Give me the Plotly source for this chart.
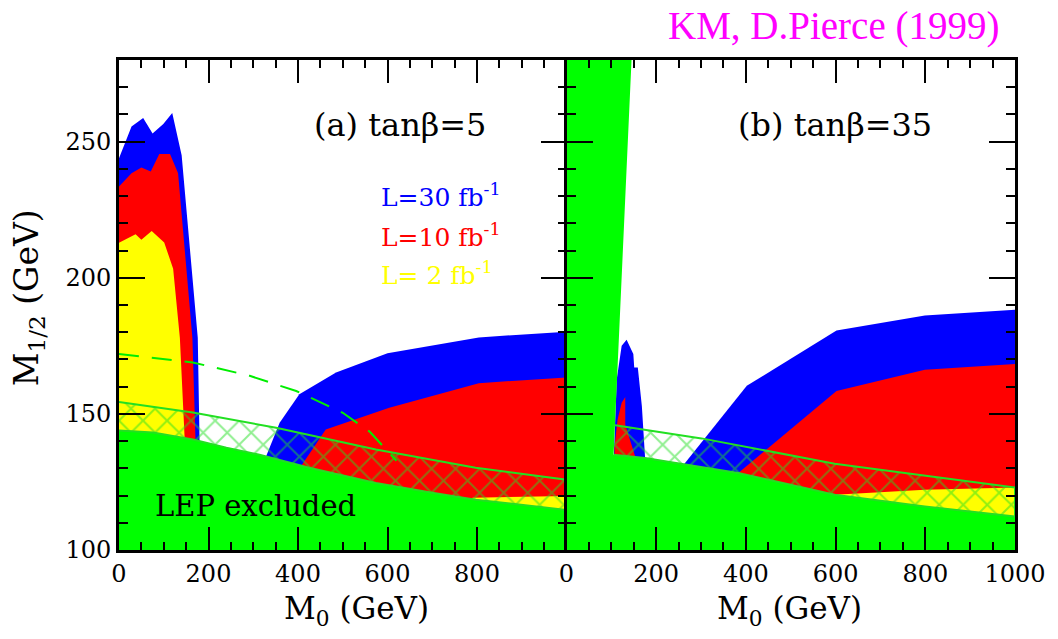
import plotly.graph_objects as go

# ---------------- panel (a): tan(beta) = 5 ----------------
# low-M0 reach contours (M0, M1/2) in GeV
a_low_30_m0 = [0, 28, 54, 75, 99, 119, 140, 176, 180]
a_low_30_m12 = [243.9, 255.6, 258.7, 253.0, 256.5, 260.5, 245.0, 178.0, 140.0]
a_low_10_m0 = [0, 28, 50, 71, 90, 114, 132, 164, 171]
a_low_10_m12 = [233.5, 238.4, 240.5, 239.0, 245.5, 245.5, 238.4, 178.0, 140.0]
a_low_2_m0 = [0, 37, 50, 73, 101, 121, 136, 147]
a_low_2_m12 = [212.9, 216.0, 214.0, 217.2, 213.0, 203.3, 178.0, 140.0]

# high-M0 reach contours
a_high_30_m0 = [318, 359, 403, 485, 600, 804, 1000]
a_high_30_m12 = [130.0, 146.7, 157.2, 165.2, 172.3, 178.1, 180.2]
a_high_10_m0 = [395, 462, 604, 804, 1000]
a_high_10_m12 = [127.9, 144.3, 152.3, 161.3, 163.4]
a_high_2_m0 = [790, 1000]
a_high_2_m12 = [119.2, 119.8]

# LEP excluded boundary and the band above it
a_lep_m0 = [0, 76, 165, 240, 314, 425, 574, 700, 797, 1000]
a_lep_m12 = [143.9, 143.2, 140.6, 137.6, 135.0, 130.2, 124.6, 121.0, 118.5, 114.7]
a_band_m0 = [0, 165, 351, 574, 797, 1000]
a_band_m12 = [154.4, 150.5, 144.9, 136.9, 130.2, 125.8]

# dashed contour
a_dash_m0 = [0, 165, 292, 396, 500, 560, 620]
a_dash_m12 = [172.0, 168.9, 164.0, 158.4, 150.4, 143.5, 132.8]

# ---------------- panel (b): tan(beta) = 35 ----------------
b_spike_30_m0 = [106, 110, 112, 123, 134, 149, 151, 159, 168, 175, 175]
b_spike_30_m12 = [136.0, 155.4, 162.7, 175.0, 177.2, 172.0, 167.0, 167.0, 152.9, 134.4, 130.0]
b_spike_10_m0 = [107, 114, 123, 131, 131, 153, 153]
b_spike_10_m12 = [138.0, 148.0, 154.1, 156.2, 146.0, 134.4, 130.0]

b_high_30_m0 = [250, 402, 602, 799, 1000]
b_high_30_m12 = [129.0, 160.3, 180.6, 186.1, 188.3]
b_high_10_m0 = [375, 602, 799, 1000]
b_high_10_m12 = [127.2, 158.4, 166.2, 168.3]
b_high_2_m0 = [598, 799, 1000]
b_high_2_m12 = [120.3, 122.1, 123.0]

# excluded region: strip at small M0 plus the LEP bound
b_lep_m0 = [0, 145, 105, 175, 383, 598, 799, 1000]
b_lep_m12 = [280.0, 280.0, 135.0, 133.8, 128.3, 120.3, 116.0, 112.3]
b_band_m0 = [105, 301, 598, 1000]
b_band_m12 = [145.9, 141.0, 131.7, 123.0]
b_band_low_m0 = [105, 175, 383, 598, 799, 1000]
b_band_low_m12 = [135.0, 133.8, 128.3, 120.3, 116.0, 112.3]

FLOOR = 100.0
BLUE, RED, YELLOW, GREEN = "#0000ff", "#ff0000", "#ffff00", "#00ff00"
HATCH = "#22e022"
FONT = "DejaVu Serif"


def to_floor(xs, ys):
    """Close a contour down to the bottom of the plot."""
    return list(xs) + [xs[-1], xs[0]], list(ys) + [FLOOR, FLOOR]


def band(xu, yu, xl, yl):
    """Polygon between an upper and a lower curve."""
    return list(xu) + list(xl)[::-1], list(yu) + list(yl)[::-1]


fig = go.Figure()


def area(xs, ys, color, xa, ya):
    fig.add_trace(go.Scatter(x=xs, y=ys, fill="toself", fillcolor=color,
                             mode="lines", line=dict(width=0, color=color),
                             hoverinfo="skip", showlegend=False,
                             xaxis=xa, yaxis=ya))


def hatch(xs, ys, xa, ya):
    fig.add_trace(go.Scatter(x=xs, y=ys, fill="toself",
                             fillcolor="rgba(0,0,0,0)",
                             fillpattern=dict(shape="x", fgcolor=HATCH,
                                              bgcolor="rgba(0,0,0,0)",
                                              size=17, solidity=0.22),
                             mode="lines", line=dict(width=2, color=HATCH),
                             hoverinfo="skip", showlegend=False,
                             xaxis=xa, yaxis=ya))


# panel (a)
for xs, ys, c in [(a_low_30_m0, a_low_30_m12, BLUE),
                  (a_low_10_m0, a_low_10_m12, RED),
                  (a_low_2_m0, a_low_2_m12, YELLOW),
                  (a_high_30_m0, a_high_30_m12, BLUE),
                  (a_high_10_m0, a_high_10_m12, RED),
                  (a_high_2_m0, a_high_2_m12, YELLOW)]:
    area(*to_floor(xs, ys), c, "x", "y")
area(*to_floor(a_lep_m0, a_lep_m12), GREEN, "x", "y")
hatch(*band(a_band_m0, a_band_m12, a_lep_m0, a_lep_m12), "x", "y")
fig.add_trace(go.Scatter(x=a_dash_m0, y=a_dash_m12, mode="lines",
                         line=dict(color="#00ee00", width=2, dash="20px,13px"),
                         hoverinfo="skip", showlegend=False,
                         xaxis="x", yaxis="y"))

# panel (b)
for xs, ys, c in [(b_spike_30_m0, b_spike_30_m12, BLUE),
                  (b_spike_10_m0, b_spike_10_m12, RED),
                  (b_high_30_m0, b_high_30_m12, BLUE),
                  (b_high_10_m0, b_high_10_m12, RED),
                  (b_high_2_m0, b_high_2_m12, YELLOW)]:
    area(*to_floor(xs, ys), c, "x2", "y2")
area(*to_floor(b_lep_m0, b_lep_m12), GREEN, "x2", "y2")
hatch(*band(b_band_m0, b_band_m12, b_band_low_m0, b_band_low_m12), "x2", "y2")

split = 449 / 899

common_x = dict(range=[0, 1000], showline=True, linewidth=3, linecolor="black",
                mirror="allticks", ticks="inside", ticklen=23, tickwidth=2,
                tickcolor="black", showgrid=False, zeroline=False,
                tickfont=dict(family=FONT, size=24, color="black"),
                minor=dict(ticks="inside", ticklen=8, tickwidth=2,
                           tickcolor="black", dtick=50, showgrid=False))
common_y = dict(range=[100, 280], showline=True, linewidth=3, linecolor="black",
                mirror="allticks", ticks="inside", ticklen=26, tickwidth=2,
                tickcolor="black", showgrid=False, zeroline=False,
                tickvals=[100, 150, 200, 250],
                tickfont=dict(family=FONT, size=24, color="black"),
                minor=dict(ticks="inside", ticklen=9, tickwidth=2,
                           tickcolor="black", dtick=10, showgrid=False))

fig.update_layout(
    width=1058, height=639,
    margin=dict(l=119, r=40, t=60, b=89),
    paper_bgcolor="white", plot_bgcolor="white",
    xaxis=dict(domain=[0, split], anchor="y",
               tickvals=[0, 200, 400, 600, 800], **common_x),
    xaxis2=dict(domain=[split, 1], anchor="y2",
                tickvals=[0, 200, 400, 600, 800, 1000], **common_x),
    yaxis=dict(anchor="x", **common_y),
    yaxis2=dict(anchor="x2", showticklabels=False, **common_y),
)

ann = [
    dict(text="KM, D.Pierce (1999)", xref="paper", yref="paper",
         x=(668 - 119) / 899, y=(550 - 26) / 490, xanchor="left",
         yanchor="middle", font=dict(family="Liberation Serif", size=39,
                                     color="#ff00ff")),
    dict(text="(a) tan\u03b2=5", xref="x", yref="y", x=432, y=256,
         xanchor="left", yanchor="middle",
         font=dict(family=FONT, size=32, color="black")),
    dict(text="(b) tan\u03b2=35", xref="x2", yref="y2", x=379, y=256,
         xanchor="left", yanchor="middle",
         font=dict(family=FONT, size=32, color="black")),
    dict(text="L=30 fb<sup>-1</sup>", xref="x", yref="y", x=581, y=230.3,
         xanchor="left", yanchor="middle",
         font=dict(family=FONT, size=25, color=BLUE)),
    dict(text="L=10 fb<sup>-1</sup>", xref="x", yref="y", x=581, y=215.6,
         xanchor="left", yanchor="middle",
         font=dict(family=FONT, size=25, color=RED)),
    dict(text="L= 2 fb<sup>-1</sup>", xref="x", yref="y", x=581, y=201.6,
         xanchor="left", yanchor="middle",
         font=dict(family=FONT, size=25, color=YELLOW)),
    dict(text="LEP excluded", xref="x", yref="y", x=76, y=116.0,
         xanchor="left", yanchor="middle",
         font=dict(family=FONT, size=29, color="black")),
    dict(text="M<sub>0</sub> (GeV)", xref="paper", yref="paper",
         x=(357 - 119) / 899, y=(550 - 610) / 490, xanchor="center",
         yanchor="middle", font=dict(family=FONT, size=31, color="black")),
    dict(text="M<sub>0</sub> (GeV)", xref="paper", yref="paper",
         x=(792 - 119) / 899, y=(550 - 610) / 490, xanchor="center",
         yanchor="middle", font=dict(family=FONT, size=31, color="black")),
    dict(text="M<sub>1/2</sub> (GeV)", xref="paper", yref="paper",
         x=(28 - 119) / 899, y=(550 - 298) / 490, xanchor="center",
         yanchor="middle", textangle=-90,
         font=dict(family=FONT, size=33, color="black")),
]
fig.update_layout(annotations=[dict(showarrow=False, **a) for a in ann])

fig.write_html("out.html")
